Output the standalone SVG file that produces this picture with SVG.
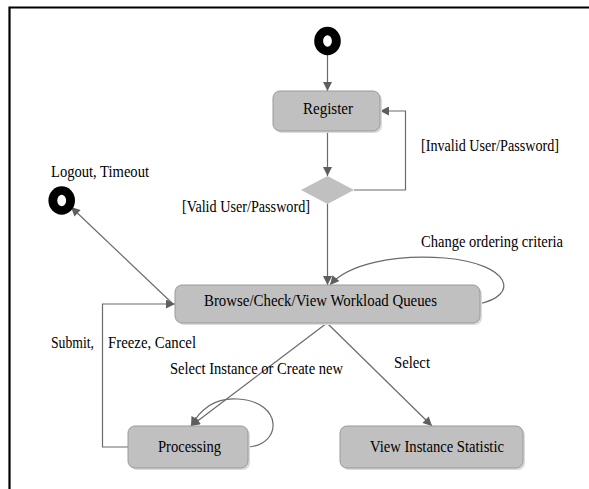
<svg xmlns="http://www.w3.org/2000/svg" width="589" height="489" viewBox="0 0 589 489">
<style>
.frame{fill:none;stroke:#000;stroke-width:2.2}
.box{fill:#c0c0c0;stroke:#9a9a9a;stroke-width:1}
.shadow{fill:#dcdcdc}
.lbl{font-family:"Liberation Serif","Times New Roman",serif;font-size:17px;fill:#000}
.con{fill:none;stroke:#6a6a6a;stroke-width:1.2}
</style>
<defs>
<marker id="arr" viewBox="0 0 10 10" refX="10" refY="5" markerWidth="10" markerHeight="9" markerUnits="userSpaceOnUse" orient="auto">
<path d="M0,0 L10,5 L0,10 z" fill="#5e5e5e"/>
</marker>
</defs>
<rect width="589" height="489" fill="#fff"/>
<path class="frame" d="M9.5,489 V7.5 H589"/>

<g id="connectors">
<line class="con" x1="327.5" y1="55" x2="327.5" y2="91" marker-end="url(#arr)"/>
<line class="con" x1="327.5" y1="131" x2="327.5" y2="176" marker-end="url(#arr)"/>
<polyline class="con" points="354,190 405.5,190 405.5,111 380,111" marker-end="url(#arr)"/>
<line class="con" x1="327.5" y1="204" x2="327.5" y2="285" marker-end="url(#arr)"/>
<line class="con" x1="172" y1="303" x2="71" y2="207" marker-end="url(#arr)"/>
<path class="con" d="M478,304 C520,296 512,264 445,258 C395,254 348,264 330,285" marker-end="url(#arr)"/>
<polyline class="con" points="128,447 102.5,447 102.5,304 175,304" marker-end="url(#arr)"/>
<line class="con" x1="327" y1="323" x2="191" y2="426" marker-end="url(#arr)"/>
<line class="con" x1="327" y1="323" x2="432" y2="426" marker-end="url(#arr)"/>
<path class="con" d="M248,447 C282,445 284,402 238,399 C215,397 200,410 191,426" marker-end="url(#arr)"/>
</g>

<g id="start">
<ellipse cx="327.5" cy="41" rx="13.3" ry="14.2" fill="#000"/>
<ellipse cx="327.5" cy="41" rx="4.4" ry="5.8" fill="#fff"/>
</g>

<g id="register">
<rect class="shadow" x="275" y="93" width="107" height="40" rx="7"/>
<rect class="box" x="273" y="91" width="107" height="40" rx="7"/>
<text class="lbl" x="303" y="114" textLength="50" lengthAdjust="spacingAndGlyphs">Register</text>
</g>

<g id="decision">
<polygon points="327.5,176 354,190 327.5,204 301,190" fill="#c0c0c0"/>
</g>

<g id="end">
<ellipse cx="61.7" cy="200.5" rx="13.3" ry="14.2" fill="#000"/>
<ellipse cx="61.7" cy="200.5" rx="4.4" ry="5.8" fill="#fff"/>
<text class="lbl" x="51" y="177" textLength="98" lengthAdjust="spacingAndGlyphs">Logout, Timeout</text>
</g>

<g id="browse">
<rect class="shadow" x="177" y="287" width="305" height="38" rx="7"/>
<rect class="box" x="175" y="285" width="305" height="38" rx="7"/>
<text class="lbl" x="204" y="306" textLength="233" lengthAdjust="spacingAndGlyphs">Browse/Check/View Workload Queues</text>
</g>

<g id="processing">
<rect class="shadow" x="130" y="428" width="120" height="42" rx="7"/>
<rect class="box" x="128" y="426" width="120" height="42" rx="7"/>
<text class="lbl" x="158" y="452" textLength="63" lengthAdjust="spacingAndGlyphs">Processing</text>
</g>

<g id="viewstat">
<rect class="shadow" x="342" y="428" width="183" height="42" rx="7"/>
<rect class="box" x="340" y="426" width="183" height="42" rx="7"/>
<text class="lbl" x="370" y="452" textLength="134" lengthAdjust="spacingAndGlyphs">View Instance Statistic</text>
</g>

<g id="labels">
<text class="lbl" x="421" y="151" textLength="138" lengthAdjust="spacingAndGlyphs">[Invalid User/Password]</text>
<text class="lbl" x="182" y="212" textLength="128" lengthAdjust="spacingAndGlyphs">[Valid User/Password]</text>
<text class="lbl" x="421" y="247" textLength="142" lengthAdjust="spacingAndGlyphs">Change ordering criteria</text>
<text class="lbl" x="51" y="348" textLength="43" lengthAdjust="spacingAndGlyphs">Submit,</text>
<text class="lbl" x="108" y="348" textLength="88" lengthAdjust="spacingAndGlyphs">Freeze, Cancel</text>
<text class="lbl" x="170" y="374" textLength="173" lengthAdjust="spacingAndGlyphs">Select Instance or Create new</text>
<text class="lbl" x="394" y="368" textLength="36" lengthAdjust="spacingAndGlyphs">Select</text>
</g>
</svg>
